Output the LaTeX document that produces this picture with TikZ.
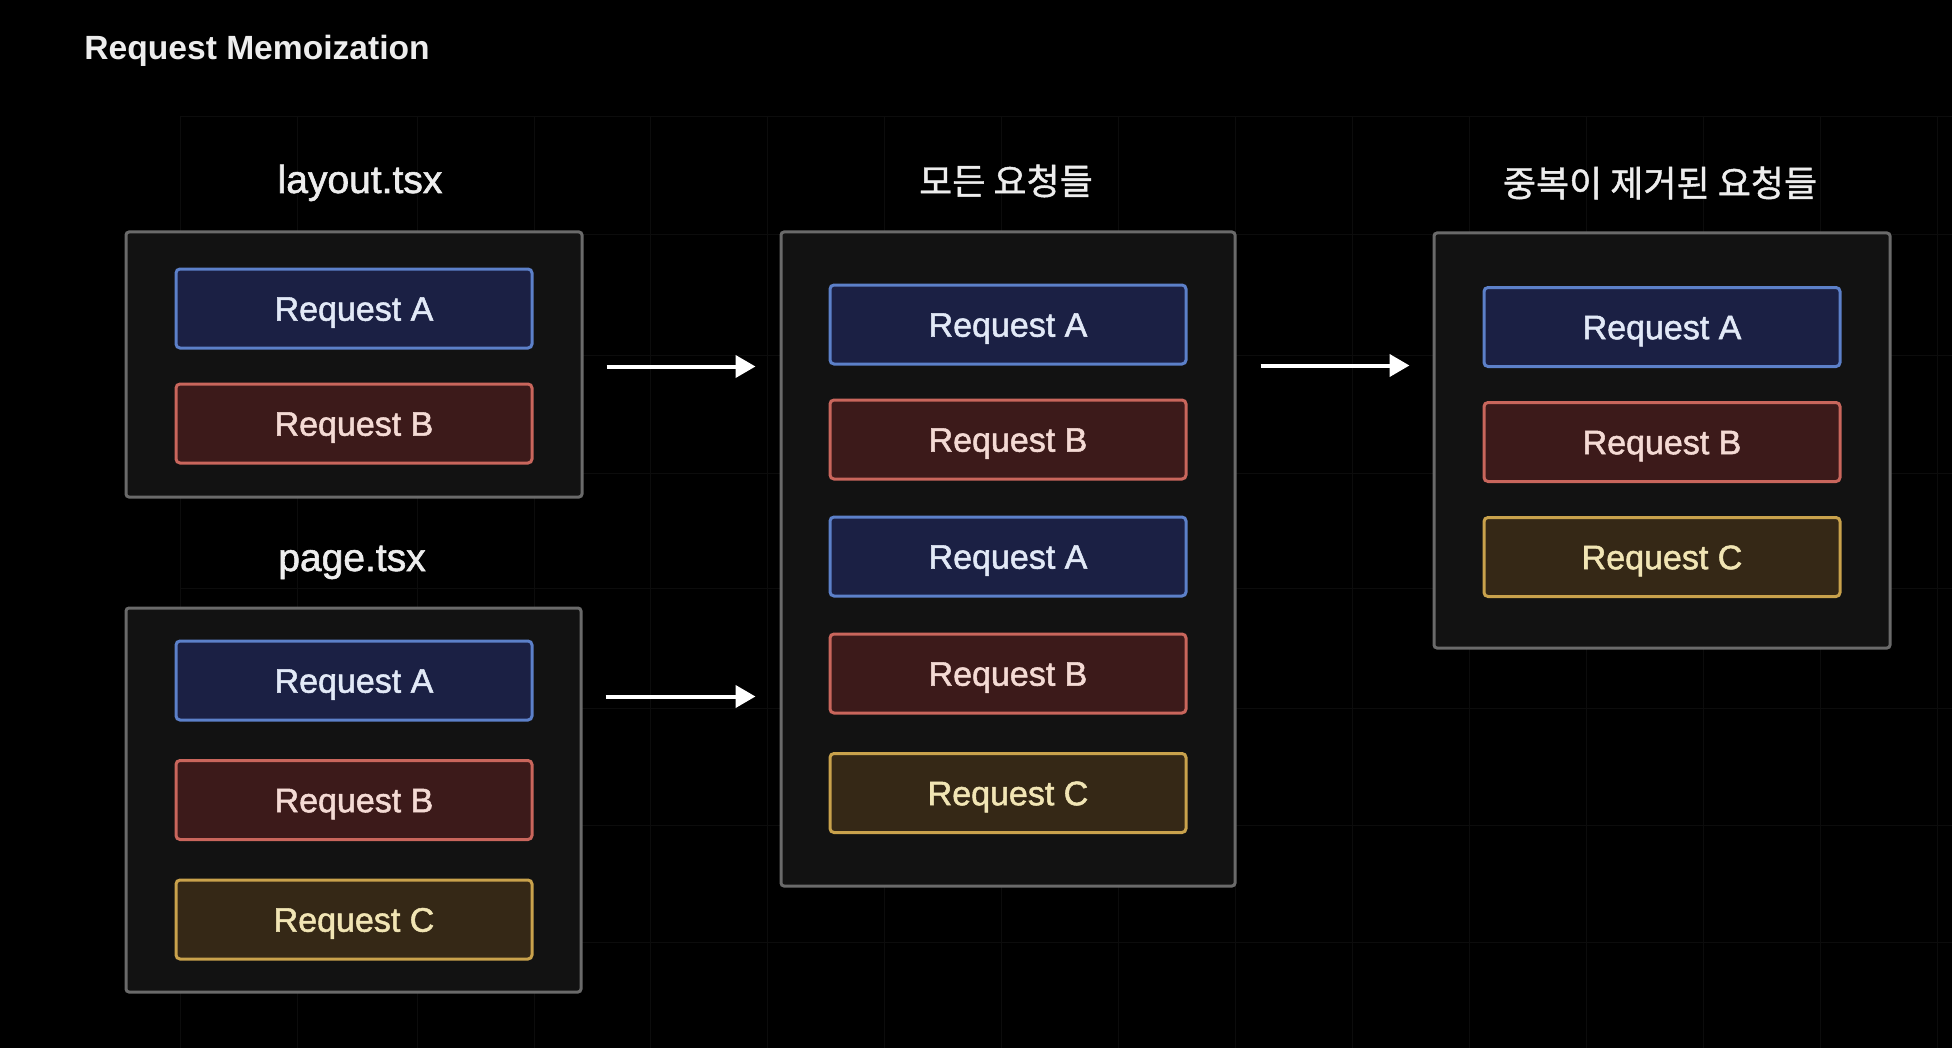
\documentclass[tikz,border=0pt]{standalone}
\usepackage{fontspec}
\setmainfont{Liberation Sans}
\newfontfamily\medfont[FakeBold=1.5]{Liberation Sans}
\newfontfamily\kofont[FakeBold=1.2]{Noto Sans CJK KR}
\usetikzlibrary{arrows.meta,calc,fit}
\definecolor{bgc}{HTML}{000000}
\definecolor{gridc}{HTML}{0C0C0C}
\definecolor{boxfill}{HTML}{121212}
\definecolor{boxline}{HTML}{6A6A6A}
\definecolor{afill}{HTML}{1B2044}
\definecolor{aline}{HTML}{5C80C9}
\definecolor{atext}{HTML}{E2E9F7}
\definecolor{bfill}{HTML}{3C1A1A}
\definecolor{bline}{HTML}{C9665C}
\definecolor{btext}{HTML}{F4DAD4}
\definecolor{cfill}{HTML}{352816}
\definecolor{cline}{HTML}{C9A24C}
\definecolor{ctext}{HTML}{F1E5B4}
\definecolor{titlec}{HTML}{EDEDED}
\begin{document}
\begin{tikzpicture}[x=0.5pt,y=-0.5pt,
  container/.style={draw=boxline,fill=boxfill,line width=1.5pt,rounded corners=1.5pt,inner sep=0pt},
  req/.style={line width=1.5pt,rounded corners=2pt,minimum width=178pt,minimum height=39.5pt,inner sep=0pt,
    font=\medfont\fontsize{17}{17}\selectfont,text height=12.2pt,text depth=0pt},
  reqA/.style={req,draw=aline,fill=afill,text=atext},
  reqB/.style={req,draw=bline,fill=bfill,text=btext},
  reqC/.style={req,draw=cline,fill=cfill,text=ctext},
  heading/.style={text=titlec,font=\medfont\fontsize{19.5}{19.5}\selectfont,inner sep=0pt},
  koheading/.style={text=titlec,font=\kofont\fontsize{18}{18}\selectfont,inner sep=0pt},
  arr/.style={draw=white,line width=2pt,-{Triangle[length=10pt,width=11pt]}}]
\fill[bgc] (0,0) rectangle (1952,1048);
\useasboundingbox (0,0) rectangle (1952,1048);
% faint background grid
\foreach \gx in {180,297,417,534,650,767,884,1001,1118,1235,1352,1469,1586,1703,1820,1937}
  \draw[gridc,line width=0.5pt] (\gx,117) -- (\gx,1048);
\foreach \gy in {117,235,355,473,588,708,825,942}
  \draw[gridc,line width=0.5pt] (180,\gy) -- (1952,\gy);

% title
\node[anchor=base west,text=titlec,font=\bfseries\fontsize{16.8}{16.8}\selectfont,inner sep=0pt] (title) at (84,60) {Request Memoization};

% headings
\node[heading,anchor=base] (hlayout) at (360,193) {layout.tsx};
\node[heading,anchor=base] (hpage) at (352,571) {page.tsx};
\node[koheading] (hall) at (1006,181) {모든 요청들};
\node[koheading] (hdedup) at (1660,183) {중복이 제거된 요청들};

% containers
\node[container,fit={(126,232) (582,497)}] (L) {};
\node[container,fit={(126,608) (581,992)}] (P) {};
\node[container,fit={(781,232) (1235,886)}] (M) {};
\node[container,fit={(1434,233) (1890,648)}] (R) {};

% layout requests
\node[reqA] (LA) at (354,308.5) {Request A};
\node[reqB] (LB) at (354,423.5) {Request B};
% page requests
\node[reqA] (PA) at (354,680.5) {Request A};
\node[reqB] (PB) at (354,800) {Request B};
\node[reqC] (PC) at (354,919.5) {Request C};
% all requests
\node[reqA] (MA1) at (1008,324.5) {Request A};
\node[reqB] (MB1) at (1008,439.5) {Request B};
\node[reqA] (MA2) at (1008,556.5) {Request A};
\node[reqB] (MB2) at (1008,673.5) {Request B};
\node[reqC] (MC) at (1008,793) {Request C};
% deduplicated
\node[reqA] (RA) at (1662,327) {Request A};
\node[reqB] (RB) at (1662,442) {Request B};
\node[reqC] (RC) at (1662,557) {Request C};

% arrows
\coordinate (a1s) at ($(L.north east)+(0,136)$);
\coordinate (a2s) at ($(P.north east)+(0,90)$);
\coordinate (a3s) at ($(M.north east)+(0,135)$);
\draw[arr,shorten <=11.5pt,shorten >=12pt] (a1s) -- (a1s -| M.west);
\draw[arr,shorten <=11.5pt,shorten >=12pt] (a2s) -- (a2s -| M.west);
\draw[arr,shorten <=12pt,shorten >=11.5pt] (a3s) -- (a3s -| R.west);
\end{tikzpicture}
\end{document}
